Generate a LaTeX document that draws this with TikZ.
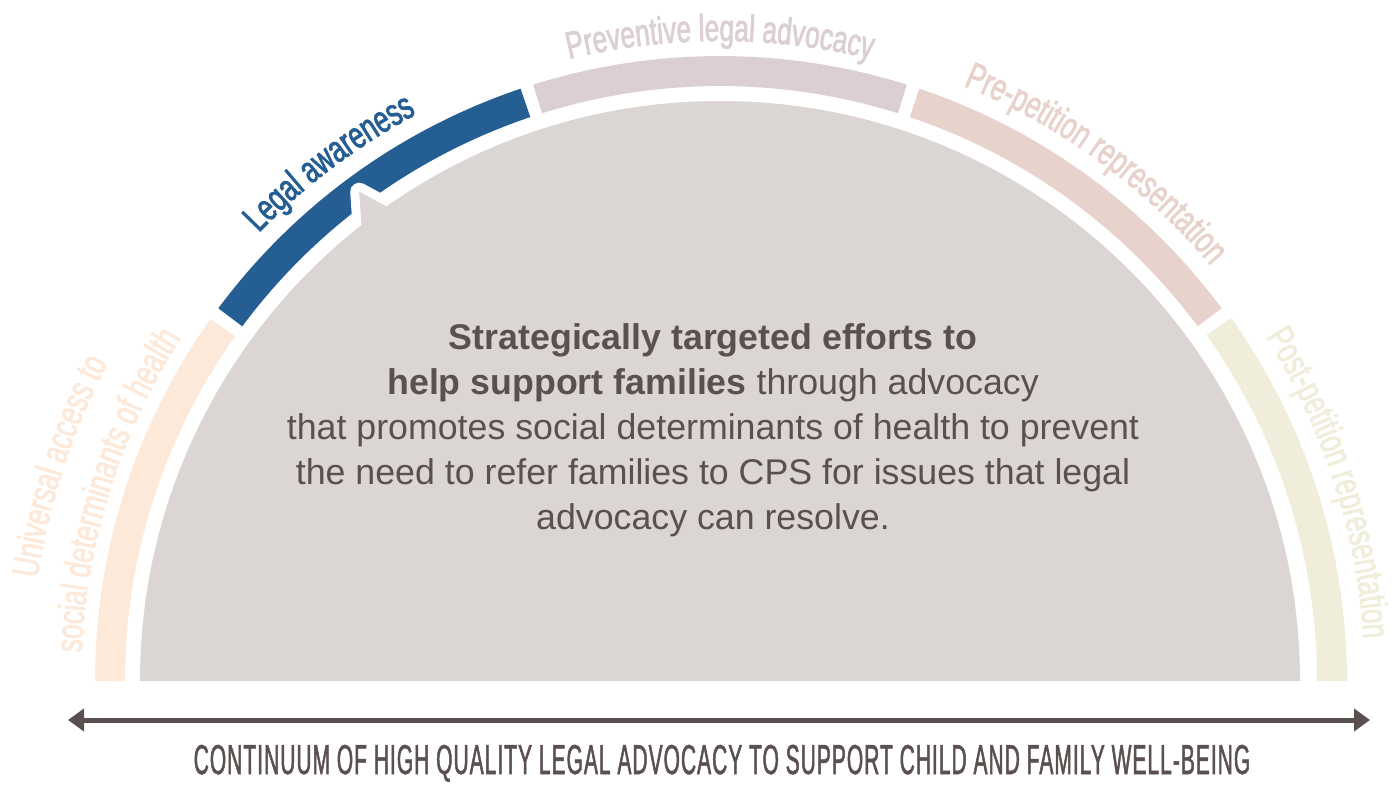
\documentclass[tikz,border=0pt]{standalone}
\usepackage{fontspec}
\usepackage{tikz}
\setmainfont{Liberation Sans}
\newfontfamily\arcfont[FakeStretch=0.69,FakeBold=2]{Liberation Sans}
\newfontfamily\capfont[FakeStretch=0.5,FakeBold=1.2,LetterSpace=2.5]{Liberation Sans}
\usetikzlibrary{decorations.text,arrows.meta}

\definecolor{discgray}{HTML}{DBD6D4}
\definecolor{bodytext}{HTML}{5B5050}
\definecolor{bandpeach}{HTML}{FDE9D9}
\definecolor{bandblue}{HTML}{245E92}
\definecolor{bandmauve}{HTML}{DBCFD1}
\definecolor{bandrose}{HTML}{E8D3CC}
\definecolor{bandcream}{HTML}{F0EEDB}

\newcommand{\arctext}[1]{|\arcfont\fontsize{28.5}{28.5}\selectfont\color{#1}|}

\begin{document}
\begin{tikzpicture}[x=0.75pt,y=0.75pt,yscale=-1,xscale=1,
	band/.style={line width=22.5pt},
	arclabel/.style={decorate,decoration={text along path,text align=center,text={#1}}}]
					\useasboundingbox (0,0) rectangle (1400,786);
					
					%Shape: Arc band 1
					\draw [band,draw=bandpeach] ([shift={(720,681)}]-180:610) arc[start angle=-180,end angle=-144.6,radius=610] ;
					%Shape: Arc band 2
					\draw [band,draw=bandblue] ([shift={(720,681)}]-143.4:610) arc[start angle=-143.4,end angle=-108.6,radius=610] ;
					%Shape: Arc band 3
					\draw [band,draw=bandmauve] ([shift={(720,681)}]-107.4:610) arc[start angle=-107.4,end angle=-72.6,radius=610] ;
					%Shape: Arc band 4
					\draw [band,draw=bandrose] ([shift={(720,681)}]-71.4:610) arc[start angle=-71.4,end angle=-36.6,radius=610] ;
					%Shape: Arc band 5
					\draw [band,draw=bandcream] ([shift={(720,681)}]-35.4:612) arc[start angle=-35.4,end angle=0,radius=612] ;
					
					%Shape: Pointer outline
					\draw [white,fill=white,line width=13.5pt,line join=round] ([shift={(720,681)}]-128.6:574) -- ([shift={(720,681)}]-126.4:608) -- ([shift={(720,681)}]-124.8:574) -- cycle ;
					%Shape: Half disc
					\fill [discgray] (140,681) arc[start angle=-180,end angle=0,radius=580] -- cycle ;
					%Shape: Pointer
					\fill [discgray] ([shift={(720,681)}]-128.6:574) -- ([shift={(720,681)}]-126.4:608) -- ([shift={(720,681)}]-124.8:574) -- cycle ;
					
					% Arc Text
					\path [arclabel={\arctext{bandpeach}Universal access to}] ([shift={(720,681)}]-187:690) arc[start angle=-187,end angle=-137,radius=690] ;
					% Arc Text
					\path [arclabel={\arctext{bandpeach}social determinants of health}] ([shift={(720,681)}]-187.5:639) arc[start angle=-187.5,end angle=-137.5,radius=639] ;
					% Arc Text
					\path [arclabel={\arctext{bandblue}Legal awareness}] ([shift={(720,681)}]-152:643) arc[start angle=-152,end angle=-102,radius=643] ;
					% Arc Text
					\path [arclabel={\arctext{bandmauve}Preventive legal advocacy}] ([shift={(720,681)}]-115:640) arc[start angle=-115,end angle=-65,radius=640] ;
					% Arc Text
					\path [arclabel={\arctext{bandrose}Pre-petition representation}] ([shift={(720,681)}]-79:643) arc[start angle=-79,end angle=-29,radius=643] ;
					% Arc Text
					\path [arclabel={\arctext{bandcream}Post-petition representation}] ([shift={(720,681)}]-43:645) arc[start angle=-43,end angle=7,radius=645] ;
					
					% Text Node
					\node [align=center,text=bodytext,font=\fontsize{26.8}{33.75}\selectfont] (msg) at (713,430) {\textbf{Strategically targeted efforts to}\\\textbf{help support families} through advocacy\\that promotes social determinants of health to prevent\\the need to refer families to CPS for issues that legal\\advocacy can resolve.};
					
					%Straight Lines with arrows
					\coordinate (lend) at (68,720);
					\coordinate (rend) at (1370,720);
					\draw [bodytext,line width=3.75pt,{Triangle[length=12pt,width=16.5pt]}-{Triangle[length=12pt,width=16.5pt]}] (lend) -- (rend) ;
					
					% Text Node
					\node [anchor=base,text=bodytext,inner sep=0.75pt,font=\capfont\fontsize{31.4}{31.4}\selectfont] (cont) at (722,774) {CONTINUUM OF HIGH QUALITY LEGAL ADVOCACY TO SUPPORT CHILD AND FAMILY WELL-BEING};
					
\end{tikzpicture}
\end{document}
